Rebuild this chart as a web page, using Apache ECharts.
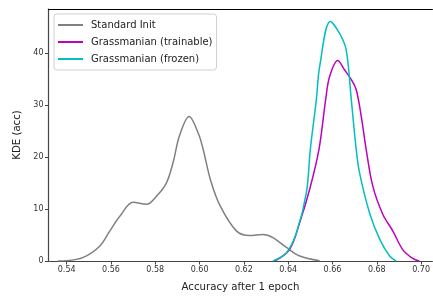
<!DOCTYPE html>
<html lang="en">
<head>
    <meta charset="UTF-8">
    <title>KDE</title>
    <script src="https://cdn.jsdelivr.net/npm/echarts@6/dist/echarts.min.js"></script>
</head>
<body style="margin:0">
<div id="main" style="width: 433px;height:297px;"></div>

<script type="text/javascript">
    // accuracy ticks / kde ticks
    var xTicks = [0.54, 0.56, 0.58, 0.60, 0.62, 0.64, 0.66, 0.68, 0.70];
    var yTicks = [0, 10, 20, 30, 40];

    // [accuracy, density]
    var standardInit = [
        [0.536, 0], [0.540, 0.05], [0.5475, 0.7], [0.555, 2.9], [0.5595, 5.8], [0.564, 8.6],
        [0.570, 11.3], [0.576, 10.9], [0.5806, 12.5], [0.585, 15], [0.588, 18.9],
        [0.591, 24.2], [0.5953, 27.8], [0.5995, 24.5], [0.6016, 21.5], [0.605, 15.5], [0.6093, 10.6],
        [0.6166, 5.8], [0.6226, 4.9], [0.6286, 5.1], [0.6331, 4.5], [0.6392, 2.6],
        [0.6452, 0.96], [0.6542, 0.05]
    ];
    var grassTrainable = [
        [0.6339, 0], [0.6406, 2.2], [0.6452, 7.4], [0.6497, 13.8], [0.6539, 21.5],
        [0.6569, 31], [0.6587, 35.5], [0.6624, 38.6], [0.6654, 36.8], [0.6685, 34.9],
        [0.6707, 33], [0.673, 27.8], [0.6752, 21.5], [0.6782, 14.4], [0.6827, 9],
        [0.6872, 5.8], [0.6917, 2.2], [0.6962, 0.5], [0.6992, 0]
    ];
    var grassFrozen = [
        [0.6331, 0], [0.6392, 1.6], [0.6437, 5.4], [0.6482, 13.1], [0.650, 21.5],
        [0.6527, 31], [0.6542, 37.4], [0.659, 46.1], [0.6632, 43.8], [0.6662, 40.6],
        [0.6685, 31], [0.6707, 21.5], [0.6722, 17], [0.6767, 9.3], [0.6813, 4.2],
        [0.6857, 1], [0.6887, 0]
    ];

    var myChart = echarts.init(document.getElementById('main'));
    var font = 'DejaVu Sans';
    var option = {
        animation: false,
        color: ['#808080', '#bf00bf', '#00bfbf'],
        grid: { left: 48.5, top: 9, right: 0, bottom: 35.3 },
        legend: {
            orient: 'vertical',
            left: 54, top: 14,
            backgroundColor: '#fff',
            borderColor: '#d0d0d0',
            borderWidth: 1,
            borderRadius: 3,
            padding: [6, 4, 6, 4],
            itemWidth: 25, itemHeight: 2, itemGap: 7,
            icon: 'rect',
            textStyle: { fontFamily: font, fontSize: 10, color: '#222', padding: [0, 0, 0, 3] },
            data: ['Standard Init', 'Grassmanian (trainable)', 'Grassmanian (frozen)']
        },
        xAxis: [{
            type: 'value', min: 0.5318, max: 0.7051,
            name: 'Accuracy after 1 epoch', nameLocation: 'middle', nameGap: 21,
            nameTextStyle: { fontFamily: font, fontSize: 10.2, color: '#222' },
            axisLine: { lineStyle: { color: '#444', width: 1.2 } },
            axisTick: { customValues: xTicks, length: 3.5, lineStyle: { color: '#444' } },
            axisLabel: { customValues: xTicks, fontFamily: font, fontSize: 8, color: '#333', margin: 5,
                formatter: function (v) { return v.toFixed(2); } },
            splitLine: { show: false }
        }, {
            type: 'value', position: 'top', min: 0.5318, max: 0.7051,
            axisLine: { show: true, lineStyle: { color: '#000', width: 1.2 } },
            axisTick: { show: false }, axisLabel: { show: false }, splitLine: { show: false }
        }],
        yAxis: {
            type: 'value', min: 0, max: 48.5,
            name: 'KDE (acc)', nameLocation: 'middle', nameGap: 24,
            nameTextStyle: { fontFamily: font, fontSize: 10.2, color: '#222' },
            axisLine: { show: true, lineStyle: { color: '#444', width: 1.2 } },
            axisTick: { show: true, customValues: yTicks, length: 3.5, lineStyle: { color: '#444' } },
            axisLabel: { customValues: yTicks, fontFamily: font, fontSize: 8, color: '#333', margin: 5 },
            splitLine: { show: false }
        },
        series: [
            { name: 'Standard Init', type: 'line', data: standardInit, smooth: 0.35, showSymbol: false, lineStyle: { width: 1.5 } },
            { name: 'Grassmanian (trainable)', type: 'line', data: grassTrainable, smooth: 0.35, showSymbol: false, lineStyle: { width: 1.5 } },
            { name: 'Grassmanian (frozen)', type: 'line', data: grassFrozen, smooth: 0.35, showSymbol: false, lineStyle: { width: 1.5 } }
        ]
    };
    myChart.setOption(option);
</script>
</body>
</html>
